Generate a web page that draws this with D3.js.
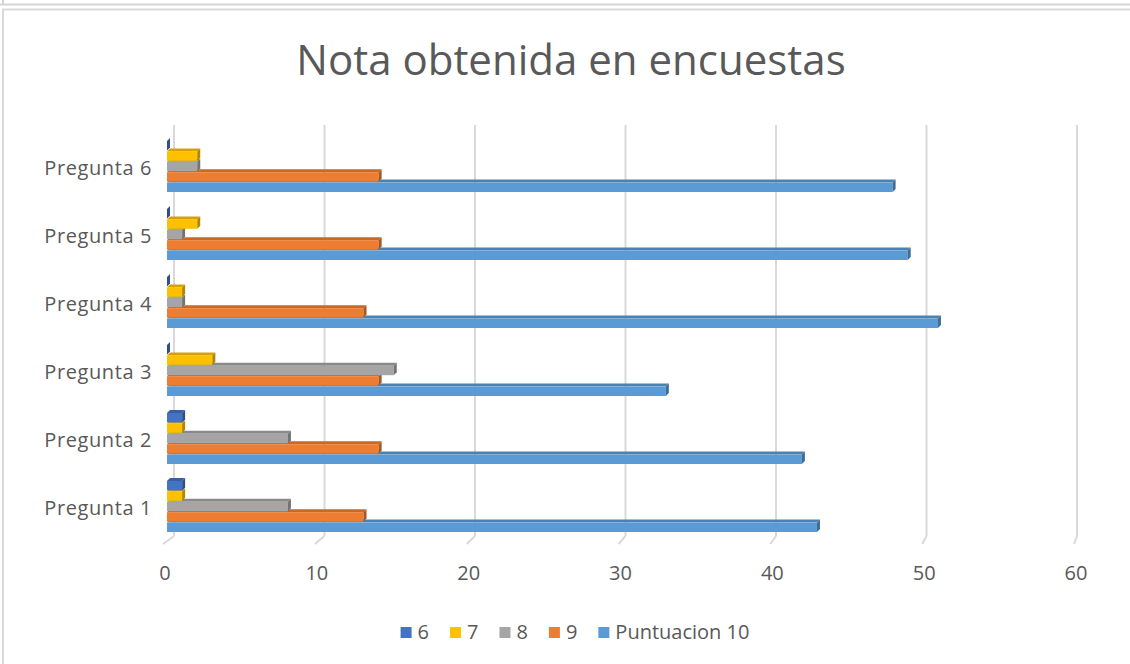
<!DOCTYPE html>
<html>
<head>
<meta charset="utf-8">
<script src="https://cdn.jsdelivr.net/npm/d3@7"></script>
<style>
  body { margin: 0; background: #fff; }
  text { font-family: "Open Sans", sans-serif; fill: #595959; }
</style>
</head>
<body>
<div id="chart"></div>
<script>
// Data
const categories = ["Pregunta 1", "Pregunta 2", "Pregunta 3", "Pregunta 4", "Pregunta 5", "Pregunta 6"];
const seriesNames = ["6", "7", "8", "9", "Puntuacion 10"];
const nota6 = [1, 1, 0, 0, 0, 0];
const nota7 = [1, 1, 3, 1, 2, 2];
const nota8 = [8, 8, 15, 1, 1, 2];
const nota9 = [13, 14, 14, 13, 14, 14];
const nota10 = [43, 42, 33, 51, 49, 48];
const xTicks = [0, 10, 20, 30, 40, 50, 60];
const colors = ["#4472C4", "#FFC000", "#A5A5A5", "#ED7D31", "#5B9BD5"];

const allSeries = [nota6, nota7, nota8, nota9, nota10];

const width = 1130, height = 664;
const svg = d3.select("#chart").append("svg")
    .attr("width", width)
    .attr("height", height);

// Frame lines like the screenshot
svg.append("line").attr("x1", 0).attr("x2", width).attr("y1", 4.5).attr("y2", 4.5)
    .attr("stroke", "#d4d4d4").attr("stroke-width", 2);
svg.append("line").attr("x1", 3).attr("x2", 3).attr("y1", 0).attr("y2", 5)
    .attr("stroke", "#d4d4d4").attr("stroke-width", 2);
svg.append("path").attr("d", `M3,${height} V9.5 H${width}`)
    .attr("fill", "none").attr("stroke", "#d9d9d9").attr("stroke-width", 2);

// Title
svg.append("text")
    .attr("x", 571)
    .attr("y", 75)
    .attr("text-anchor", "middle")
    .style("font-size", "42px")
    .text("Nota obtenida en encuestas");

// Scales: back wall, front floor edge and the bars
const gridTop = 125, floorBack = 536, floorFront = 544;
const xBack = d3.scaleLinear().domain([0, 60]).range([174, 1077]);
const xFront = d3.scaleLinear().domain([0, 60]).range([164, 1075]);
const xBar = d3.scaleLinear().domain([0, 60]).range([167, 1074]);

const yBand = d3.scaleBand()
    .domain(categories.slice().reverse())
    .range([132, 540]);
const yInner = d3.scaleBand()
    .domain(seriesNames)
    .range([8, 60]);

// Gridlines on the back wall and the slanted floor ticks
xTicks.forEach(t => {
    svg.append("line")
        .attr("x1", xBack(t)).attr("x2", xBack(t))
        .attr("y1", gridTop).attr("y2", floorBack)
        .attr("stroke", "#d9d9d9").attr("stroke-width", 2);
    svg.append("line")
        .attr("x1", xBack(t)).attr("x2", xFront(t) - 1)
        .attr("y1", floorBack).attr("y2", floorFront)
        .attr("stroke", "#d9d9d9").attr("stroke-width", 2);
});

// Tick labels on the value axis
svg.selectAll(".xlab")
    .data(xTicks)
    .enter().append("text")
    .attr("class", "xlab")
    .attr("x", d => xFront(d) + 1)
    .attr("y", 580)
    .attr("text-anchor", "middle")
    .style("font-size", "20px")
    .text(d => d);

// Category labels
svg.selectAll(".ylab")
    .data(categories)
    .enter().append("text")
    .attr("class", "ylab")
    .attr("x", 152)
    .attr("y", d => yBand(d) + yBand.bandwidth() / 2 + 9)
    .attr("text-anchor", "end")
    .style("font-size", "20px")
    .style("letter-spacing", "0.6px")
    .text(d => d);

// 3D bars: front face, top face, right face
const dx = 3, dy = 3;
const bars = [];
categories.forEach((c, ci) => {
    for (let si = seriesNames.length - 1; si >= 0; si--) {
        bars.push({ cat: c, series: seriesNames[si], idx: si, value: allSeries[si][ci] });
    }
});

const barG = svg.append("g");
bars.forEach(b => {
    const x0 = xBar(0), x1 = xBar(b.value);
    const yTop = yBand(b.cat) + yInner(b.series) + 1;
    const yBot = yBand(b.cat) + yInner(b.series) + yInner.bandwidth();
    const base = d3.color(colors[b.idx]);
    const g = barG.append("g");

    g.append("path")
        .attr("d", `M${x0},${yTop} L${x1},${yTop} L${x1 + dx},${yTop - dy} L${x0 + dx},${yTop - dy} Z`)
        .attr("fill", base.darker(0.5));
    g.append("rect")
        .attr("x", x0)
        .attr("y", yTop)
        .attr("width", x1 - x0)
        .attr("height", yBot - yTop)
        .attr("fill", colors[b.idx]);
    g.append("path")
        .attr("d", `M${x1},${yTop} L${x1 + dx},${yTop - dy} L${x1 + dx},${yBot - dy} L${x1},${yBot} Z`)
        .attr("fill", base.darker(1));
});

// Legend
const legend = svg.append("g");
let lx = 0;
seriesNames.forEach((s, i) => {
    const item = legend.append("g").attr("transform", `translate(${lx},0)`);
    item.append("rect")
        .attr("x", 0).attr("y", -12)
        .attr("width", 11).attr("height", 11)
        .attr("fill", colors[i]);
    const t = item.append("text")
        .attr("x", 17).attr("y", 0)
        .style("font-size", "20px")
        .text(s);
    lx += 17 + t.node().getComputedTextLength() + 21;
});
const legendW = lx - 21;
legend.attr("transform", `translate(${575 - legendW / 2},639)`);
</script>
</body>
</html>
